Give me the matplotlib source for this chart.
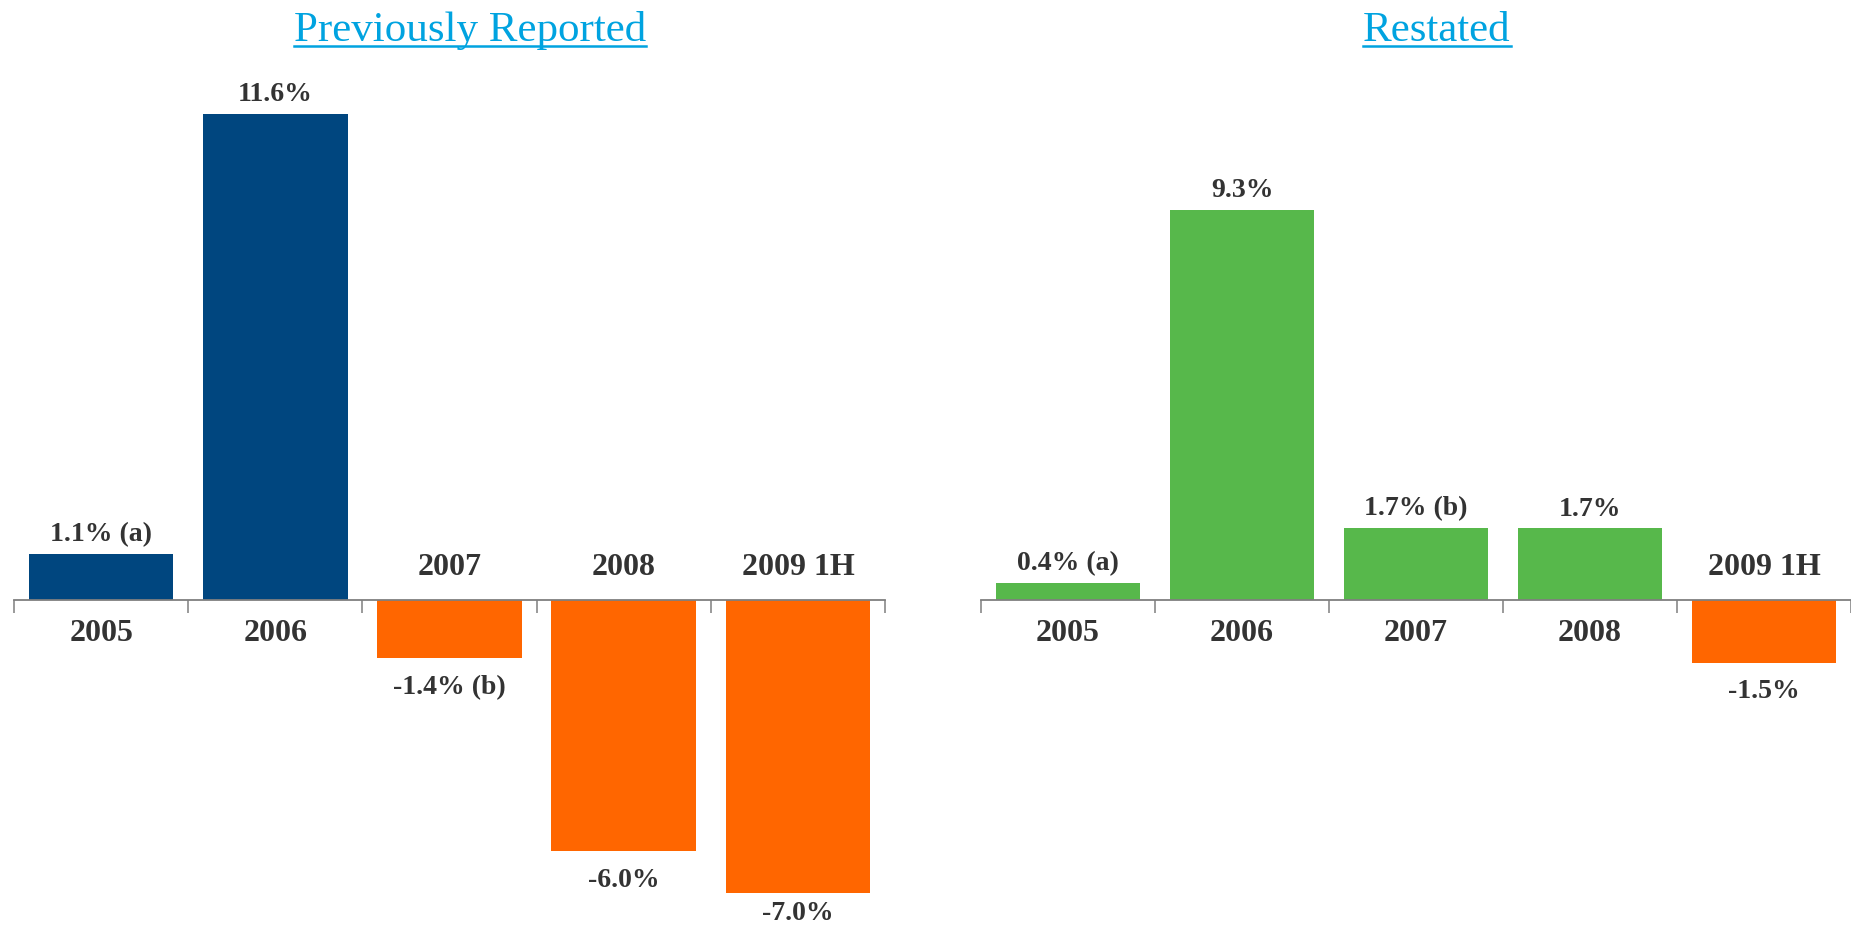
import matplotlib
matplotlib.use("Agg")
import matplotlib.pyplot as plt
from matplotlib.lines import Line2D

categories = ["2005", "2006", "2007", "2008", "2009 1H"]
prev_values = [1.1, 11.6, -1.4, -6.0, -7.0]
prev_labels = ["1.1% (a)", "11.6%", "-1.4% (b)", "-6.0%", "-7.0%"]
restated_values = [0.4, 9.3, 1.7, 1.7, -1.5]
restated_labels = ["0.4% (a)", "9.3%", "1.7% (b)", "1.7%", "-1.5%"]

NAVY = "#00467F"
ORANGE = "#FF6600"
GREEN = "#57B84B"
TEXT = "#333333"
TITLE = "#00A3E0"
AXIS = "#7F7F7F"

plt.rcParams["font.family"] = ["Liberation Serif", "DejaVu Serif"]

W, H = 1851, 927
fig = plt.figure(figsize=(W / 100, H / 100), dpi=100)

ymin, ymax = -7.5, 13.0
bottom = 13 / H
height = 859 / H

neg_texts = []


def panel(ax, values, labels, pos_color, neg_color):
    x = list(range(len(values)))
    colors = [pos_color if v >= 0 else neg_color for v in values]
    ax.bar(x, values, width=0.83, color=colors, zorder=2)
    ax.set_xlim(-0.5, len(values) - 0.5)
    ax.set_ylim(ymin, ymax)
    for s in ("top", "right", "left"):
        ax.spines[s].set_visible(False)
    ax.spines["bottom"].set_position(("data", 0))
    ax.spines["bottom"].set_color(AXIS)
    ax.spines["bottom"].set_linewidth(1.3)
    ax.spines["bottom"].set_zorder(3)
    ax.set_yticks([])
    ax.set_xticks([i - 0.5 for i in range(len(values) + 1)])
    ax.set_xticklabels([])
    ax.tick_params(axis="x", direction="out", length=9, width=1.1, color=AXIS)

    for xi, v, lab, cat in zip(x, values, labels, categories):
        if v >= 0:
            ax.annotate(lab, (xi, v), xytext=(0, 5), textcoords="offset points",
                        ha="center", va="bottom", fontsize=20, fontweight="bold",
                        color=TEXT)
            ax.annotate(cat, (xi, 0), xytext=(0, -14), textcoords="offset points",
                        ha="center", va="top", fontsize=23, fontweight="bold",
                        color=TEXT)
        else:
            t = ax.annotate(lab, (xi, v), xytext=(0, -12), textcoords="offset points",
                            ha="center", va="top", fontsize=20, fontweight="bold",
                            color=TEXT, annotation_clip=False)
            neg_texts.append(t)
            ax.annotate(cat, (xi, 0), xytext=(0, 13), textcoords="offset points",
                        ha="center", va="bottom", fontsize=23, fontweight="bold",
                        color=TEXT)


ax1 = fig.add_axes([14 / W, bottom, 871 / W, height])
panel(ax1, prev_values, prev_labels, NAVY, ORANGE)
ax2 = fig.add_axes([981 / W, bottom, 870 / W, height])
panel(ax2, restated_values, restated_labels, GREEN, ORANGE)

fig.canvas.draw()
renderer = fig.canvas.get_renderer()

# keep the lowest labels inside the picture
for t in neg_texts:
    bb = t.get_window_extent(renderer=renderer)
    if bb.y0 < 0:
        shift_pt = (-bb.y0 + 1) * 72 / fig.dpi
        ox, oy = t.xyann
        t.xyann = (ox, oy + shift_pt)

# underlined titles
titles = [("Previously Reported", 470 / W), ("Restated", 1437 / W)]
for text, xc in titles:
    t = fig.text(xc, 1 - 31 / H, text, ha="center", va="center",
                 fontsize=31, color=TITLE)
    bb = t.get_window_extent(renderer=renderer)
    yline = 1 - 46 / H
    fig.add_artist(Line2D([bb.x0 / W, bb.x1 / W], [yline, yline],
                          color=TITLE, linewidth=1.8))

fig.savefig("out.png", dpi=100)
